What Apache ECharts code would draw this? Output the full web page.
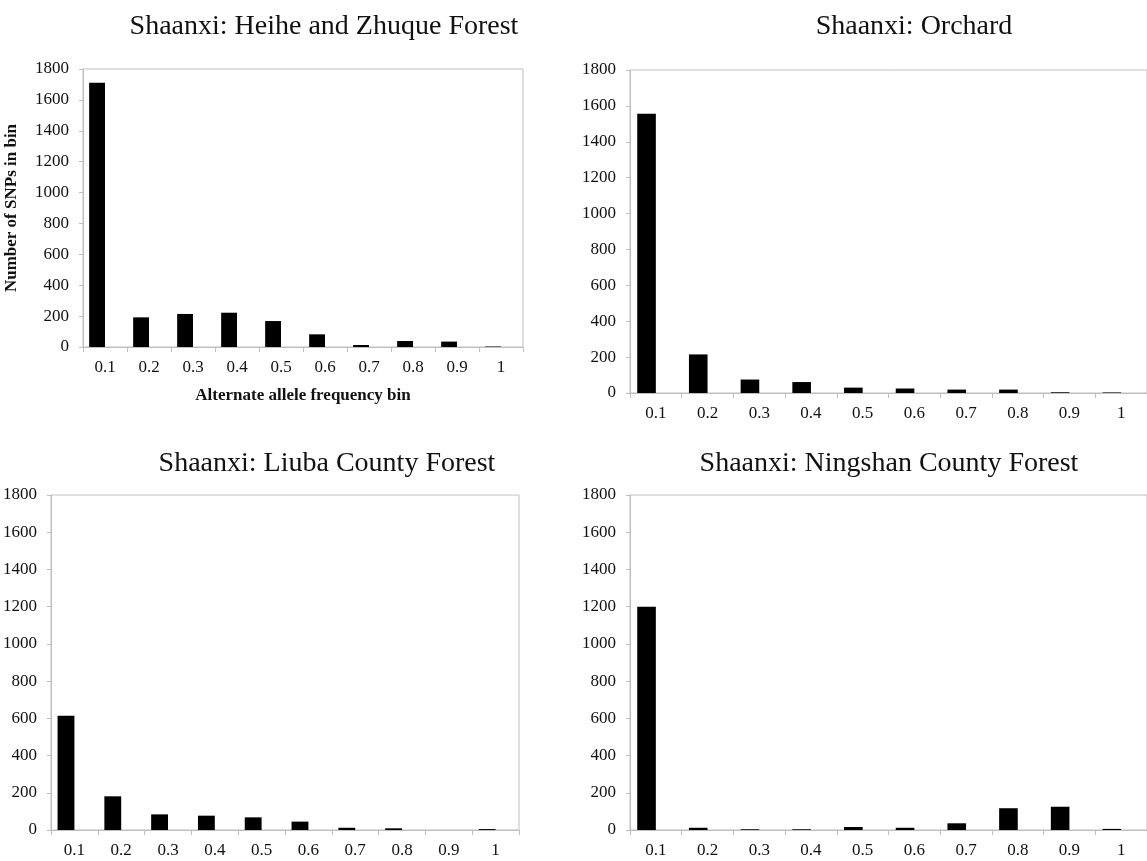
<!DOCTYPE html>
<html lang="en">
<head>
    <meta charset="UTF-8">
    <title>Alternate allele frequency</title>
    <style>
        html, body { margin: 0; padding: 0; background: #fff; }
    </style>
</head>
<body>
<script src="https://cdn.jsdelivr.net/npm/echarts@6/dist/echarts.min.js"></script>

<div id="main" style="width: 1147px;height:861px;"></div>
<script type="text/javascript">

// frequency bins (x axis)
var bins = ['0.1', '0.2', '0.3', '0.4', '0.5', '0.6', '0.7', '0.8', '0.9', '1'];

// number of SNPs per bin
var heiheZhuque = [1711, 192, 214, 222, 168, 82, 13, 39, 35, 3];
var orchard = [1556, 215, 75, 61, 30, 25, 19, 19, 4, 3];
var liuba = [614, 181, 84, 77, 68, 45, 12, 9, 0, 5];
var ningshan = [1200, 12, 4, 4, 16, 12, 36, 117, 125, 6];

var panelTitles = [
    'Shaanxi: Heihe and Zhuque Forest',
    'Shaanxi: Orchard',
    'Shaanxi: Liuba County Forest',
    'Shaanxi: Ningshan County Forest'
];
var panelData = [heiheZhuque, orchard, liuba, ningshan];

// empty companion series (the original chart leaves a slot next to each bar)
var emptySlot = [null, null, null, null, null, null, null, null, null, null];

var serif = "'Liberation Serif', 'Times New Roman', serif";
var grey = '#bfbfbf';

var grids = [
    {left: 83, top: 69, width: 440, height: 278},
    {left: 630, top: 70, width: 525, height: 323},
    {left: 49, top: 495, width: 470, height: 335},
    {left: 630, top: 495, width: 525, height: 335}
];
var titlePos = [
    {left: 324, top: 13},
    {left: 914, top: 13},
    {left: 327, top: 450},
    {left: 889, top: 450}
];

var titles = [], xAxes = [], yAxes = [], series = [];
for (var i = 0; i < 4; i++) {
    titles.push({
        text: panelTitles[i],
        left: titlePos[i].left,
        top: titlePos[i].top,
        textAlign: 'center',
        padding: 0,
        textStyle: {fontFamily: serif, fontSize: 28, fontWeight: 'normal', color: '#111'}
    });
    grids[i].show = true;
    grids[i].borderColor = grey;
    grids[i].borderWidth = 1;
    grids[i].containLabel = false;

    xAxes.push({
        type: 'category',
        gridIndex: i,
        data: bins,
        axisLine: {lineStyle: {color: grey, width: 1}},
        axisTick: {show: true, length: 5, lineStyle: {color: grey}},
        axisLabel: {fontFamily: serif, fontSize: 17, color: '#111', margin: 12},
        name: i === 0 ? 'Alternate allele frequency bin' : '',
        nameLocation: 'middle',
        nameGap: 40,
        nameTextStyle: {fontFamily: serif, fontSize: 17, fontWeight: 'bold', color: '#111'}
    });
    yAxes.push({
        type: 'value',
        gridIndex: i,
        min: 0,
        max: 1800,
        interval: 200,
        axisLine: {show: true, lineStyle: {color: grey, width: 1}},
        axisTick: {show: true, length: 4, lineStyle: {color: grey}},
        splitLine: {show: false},
        axisLabel: {
            fontFamily: serif, fontSize: 17, color: '#111', margin: 14,
            formatter: function (v) { return String(v); }
        },
        name: i === 0 ? 'Number of SNPs in bin' : '',
        nameLocation: 'middle',
        nameRotate: 90,
        nameGap: 63,
        nameTextStyle: {fontFamily: serif, fontSize: 17, fontWeight: 'bold', color: '#111'}
    });
    series.push({
        type: 'bar',
        xAxisIndex: i,
        yAxisIndex: i,
        data: panelData[i],
        barWidth: '36%',
        barGap: '0%',
        itemStyle: {color: '#000'}
    });
    series.push({
        type: 'bar',
        xAxisIndex: i,
        yAxisIndex: i,
        data: emptySlot,
        barWidth: '36%',
        barGap: '0%',
        itemStyle: {color: '#000'}
    });
}

var myChart = echarts.init(document.getElementById('main'));
myChart.setOption({
    animation: false,
    backgroundColor: '#fff',
    title: titles,
    grid: grids,
    xAxis: xAxes,
    yAxis: yAxes,
    series: series
});

</script>
</body>
</html>
